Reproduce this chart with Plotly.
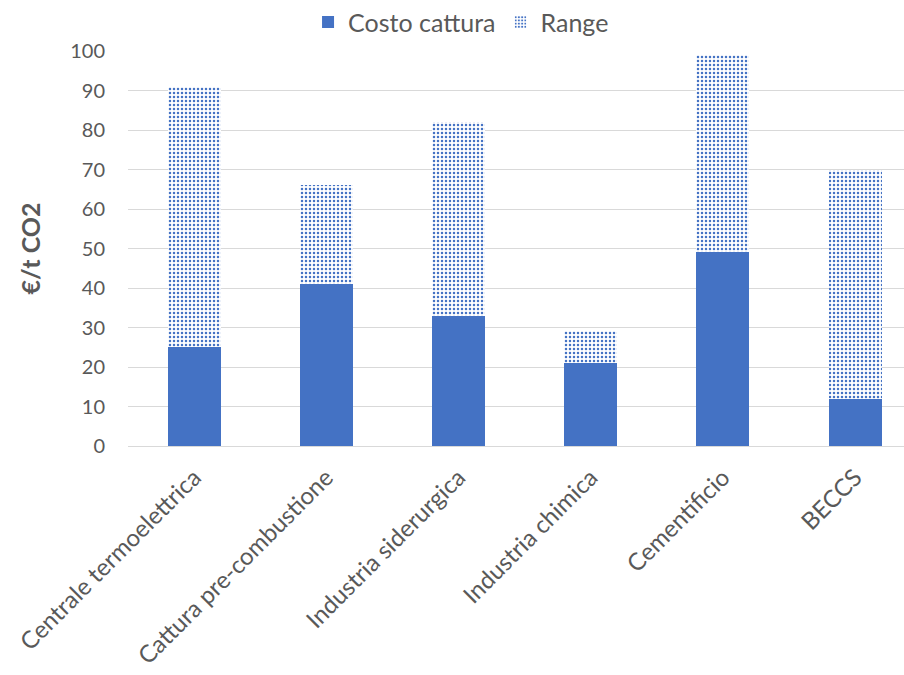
import plotly.graph_objects as go

categories = ["Centrale termoelettrica", "Cattura pre-combustione", "Industria siderurgica",
              "Industria chimica", "Cementificio", "BECCS"]
costo_cattura = [25, 41, 33, 21, 49, 12]
range_vals = [66, 25, 49, 8, 50, 58]
y_ticks = [0, 10, 20, 30, 40, 50, 60, 70, 80, 90, 100]

blue = "#4472C4"
grey_txt = "#595959"
font_family = "Lato, 'Open Sans', sans-serif"

fig = go.Figure()
fig.add_trace(go.Bar(
    x=categories, y=costo_cattura, name="Costo cattura",
    marker=dict(color=blue, line=dict(width=0)), width=0.4,
))
fig.add_trace(go.Bar(
    x=categories, y=range_vals, name="Range",
    marker=dict(color="white", line=dict(width=0),
                pattern=dict(shape=".", fgcolor=blue, bgcolor="white", size=4, solidity=0.3, fillmode="replace")),
    width=0.4,
))

fig.update_layout(
    barmode="stack",
    width=904, height=675,
    margin=dict(l=128, r=0, t=51, b=229, autoexpand=False),
    paper_bgcolor="white", plot_bgcolor="white",
    font=dict(family=font_family, color=grey_txt),
    legend=dict(orientation="h", xref="container", yref="container",
                x=0.51, xanchor="center", y=0.967, yanchor="middle",
                font=dict(size=25, color=grey_txt), itemwidth=30, traceorder="normal"),
    xaxis=dict(range=[-0.5, 5.37], tickangle=-45, tickfont=dict(size=24, color=grey_txt),
               showline=True, linecolor="#d9d9d9", linewidth=1, ticks="", showgrid=False,
               ticklabelstandoff=7, automargin=False),
    yaxis=dict(range=[0, 100], tickvals=y_ticks, tickfont=dict(size=20, color=grey_txt),
               showgrid=True, gridcolor="#d9d9d9", gridwidth=1, zeroline=False,
               ticks="", ticklabelstandoff=22, automargin=False,
               title=dict(text="<b>€/t CO2</b>", font=dict(size=25, color=grey_txt), standoff=22)),
    bargap=0.6,
)

fig.write_html("out.html")
